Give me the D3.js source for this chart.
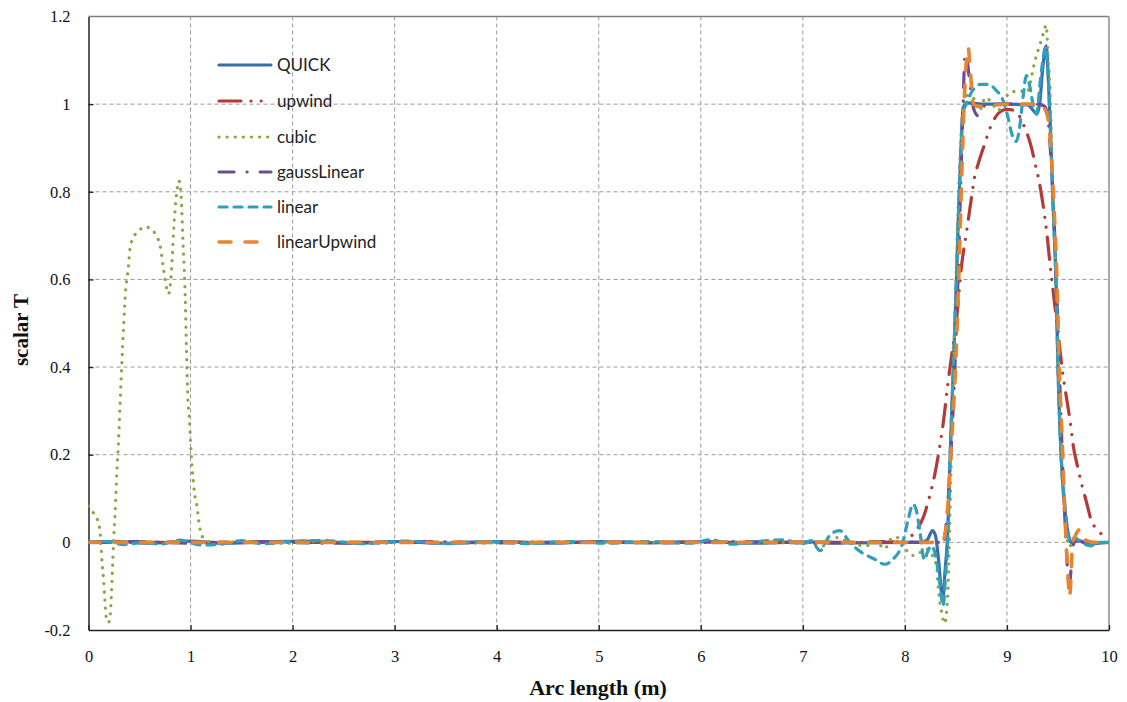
<!DOCTYPE html>
<html><head><meta charset="utf-8">
<script src="https://cdn.jsdelivr.net/npm/d3@7"></script>
<style>body{margin:0;background:#fff;}svg{display:block;}</style>
</head><body>
<svg id="chart" width="1127" height="702"></svg>
<script>
// ---- data ----
const seriesNames = ["QUICK","upwind","cubic","gaussLinear","linear","linearUpwind"];
const xTicks = [0,1,2,3,4,5,6,7,8,9,10];
const yTicks = [-0.2,0,0.2,0.4,0.6,0.8,1,1.2];
const xTickLabels = ["0","1","2","3","4","5","6","7","8","9","10"];
const yTickLabels = ["-0.2","0","0.2","0.4","0.6","0.8","1","1.2"];

const quickData = [[0,0],[0.3,0.002],[0.6,-0.002],[1.0,0.003],[1.3,-0.002],[1.8,0.002],[2.2,0.003],[2.6,-0.002],[3.0,0.002],[3.5,-0.002],[4.0,0.002],[4.5,-0.002],[5.0,0.002],[5.5,-0.001],[6.0,0.002],[6.5,-0.002],[7.0,0.001],[7.5,-0.001],[8.0,0],[8.15,0],[8.22,0.006],[8.27,0.027],[8.30,0.015],[8.33,-0.04],[8.37,-0.13],[8.395,-0.06],[8.415,0],[8.44,0.175],[8.475,0.40],[8.505,0.60],[8.525,0.75],[8.55,0.9],[8.57,0.99],[8.60,1.003],[8.8,1.0],[9.0,1.0],[9.2,0.998],[9.26,0.985],[9.29,0.977],[9.32,1.0],[9.35,1.08],[9.385,1.133],[9.405,1.06],[9.425,0.95],[9.45,0.78],[9.48,0.6],[9.50,0.4],[9.53,0.2],[9.565,0.08],[9.60,0.02],[9.63,0],[9.7,0.004],[9.8,-0.003],[10,0]];

const upwindData = [[0,0],[1,0],[2,0],[3,0],[4,0],[5,0],[6,0],[7,0],[7.8,0],[7.95,0.003],[8.05,0.012],[8.11,0.027],[8.18,0.057],[8.24,0.103],[8.29,0.152],[8.34,0.217],[8.38,0.28],[8.42,0.36],[8.46,0.43],[8.505,0.506],[8.555,0.631],[8.60,0.703],[8.65,0.783],[8.68,0.83],[8.72,0.865],[8.77,0.901],[8.85,0.954],[8.93,0.982],[9.0,0.988],[9.08,0.985],[9.16,0.954],[9.24,0.901],[9.28,0.86],[9.31,0.83],[9.36,0.76],[9.39,0.707],[9.42,0.64],[9.45,0.578],[9.50,0.48],[9.55,0.38],[9.58,0.335],[9.62,0.275],[9.65,0.22],[9.69,0.175],[9.73,0.135],[9.78,0.091],[9.82,0.055],[9.89,0.027],[10,0.012]];

const cubicData = [[0,0.083],[0.043,0.069],[0.082,0.055],[0.105,0.038],[0.115,0.019],[0.124,-0.013],[0.134,-0.05],[0.147,-0.084],[0.161,-0.134],[0.173,-0.17],[0.196,-0.183],[0.213,-0.167],[0.222,-0.13],[0.235,-0.06],[0.245,0],[0.259,0.06],[0.278,0.16],[0.294,0.23],[0.31,0.32],[0.335,0.45],[0.359,0.559],[0.392,0.631],[0.408,0.672],[0.441,0.696],[0.49,0.71],[0.546,0.72],[0.611,0.716],[0.663,0.70],[0.702,0.677],[0.735,0.624],[0.768,0.578],[0.784,0.567],[0.807,0.60],[0.82,0.646],[0.833,0.707],[0.849,0.76],[0.866,0.80],[0.885,0.825],[0.905,0.80],[0.915,0.753],[0.925,0.69],[0.937,0.63],[0.947,0.567],[0.96,0.44],[0.974,0.327],[0.986,0.289],[0.996,0.25],[1.006,0.205],[1.016,0.167],[1.028,0.137],[1.038,0.114],[1.062,0.083],[1.087,0.038],[1.111,0.015],[1.16,0.004],[1.25,-0.002],[1.5,0.002],[1.9,-0.002],[2.3,0.002],[2.8,-0.002],[3.3,0.001],[3.8,-0.002],[4.3,0.001],[4.8,-0.001],[5.3,0.001],[5.8,-0.001],[6.2,0.002],[6.6,-0.002],[7.0,0.0],[7.2,-0.008],[7.33,0.011],[7.42,0.004],[7.5,-0.004],[7.62,-0.008],[7.72,0.003],[7.80,-0.015],[7.88,0.011],[7.93,0.011],[8.02,-0.019],[8.08,-0.03],[8.15,-0.023],[8.21,-0.015],[8.26,-0.027],[8.31,-0.053],[8.325,-0.1],[8.36,-0.16],[8.39,-0.185],[8.42,-0.12],[8.44,0.05],[8.47,0.35],[8.50,0.6],[8.53,0.82],[8.56,0.97],[8.6,1.02],[8.67,1.014],[8.73,0.985],[8.79,1.015],[8.86,1.0],[8.91,0.985],[9.03,1.027],[9.13,1.03],[9.19,1.027],[9.22,1.038],[9.24,1.061],[9.27,1.095],[9.32,1.133],[9.36,1.164],[9.385,1.18],[9.405,1.10],[9.42,1.046],[9.45,0.8],[9.48,0.6],[9.50,0.4],[9.53,0.2],[9.57,0.05],[9.61,-0.01],[9.66,0.005],[9.8,-0.002],[10,0]];

const gaussLinearData = [[0,0],[0.5,0.002],[1.0,-0.002],[1.6,0.002],[2.4,-0.002],[3.2,0.002],[4.0,-0.001],[4.8,0.001],[5.6,-0.001],[6.4,0.002],[7.2,-0.002],[7.8,0.002],[8.2,0],[8.34,0],[8.37,-0.008],[8.39,0.01],[8.415,0.07],[8.45,0.2],[8.49,0.4],[8.52,0.6],[8.545,0.8],[8.57,1.0],[8.59,1.115],[8.61,1.10],[8.64,1.04],[8.68,0.985],[8.72,0.973],[8.76,0.99],[8.8,1.0],[9.0,1.0],[9.3,1.0],[9.37,0.995],[9.40,0.97],[9.43,0.88],[9.46,0.75],[9.49,0.55],[9.52,0.35],[9.55,0.15],[9.575,0.02],[9.59,-0.05],[9.607,-0.105],[9.625,-0.07],[9.645,-0.01],[9.68,0.005],[9.75,0.0],[9.82,-0.005],[9.9,0],[10,0]];

const linearData = [[0,0],[0.15,0.002],[0.35,-0.005],[0.55,0.0],[0.7,-0.004],[0.9,0.005],[1.1,-0.006],[1.3,-0.004],[1.5,0.004],[1.7,-0.003],[2.0,0.002],[2.3,0.004],[2.7,-0.003],[3.1,0.003],[3.5,-0.003],[3.9,0.002],[4.3,-0.003],[4.7,0.002],[5.1,-0.002],[5.5,0.002],[5.9,-0.002],[6.1,0.006],[6.3,-0.004],[6.6,0.003],[6.8,0.006],[7.0,-0.003],[7.08,0.004],[7.17,-0.019],[7.26,0.015],[7.36,0.027],[7.46,0.0],[7.575,-0.023],[7.70,-0.038],[7.80,-0.05],[7.885,-0.038],[7.98,0],[8.03,0.05],[8.08,0.087],[8.115,0.07],[8.15,0.02],[8.19,-0.04],[8.225,-0.02],[8.26,-0.008],[8.30,-0.03],[8.34,-0.09],[8.375,-0.145],[8.40,-0.07],[8.42,0],[8.44,0.175],[8.475,0.4],[8.505,0.6],[8.525,0.75],[8.55,0.9],[8.57,0.98],[8.60,1.0],[8.66,1.03],[8.74,1.045],[8.82,1.045],[8.90,1.03],[8.95,1.015],[9.01,0.97],[9.05,0.93],[9.09,0.915],[9.12,0.94],[9.16,1.02],[9.19,1.065],[9.22,1.045],[9.26,0.995],[9.29,0.978],[9.33,1.06],[9.38,1.13],[9.405,1.06],[9.425,0.95],[9.45,0.78],[9.48,0.6],[9.50,0.4],[9.53,0.2],[9.57,0.08],[9.60,0.02],[9.63,0],[9.66,0.011],[9.72,0.002],[9.82,-0.008],[9.9,0],[10,0]];

const linearUpwindData = [[0,0],[2,0],[4,0],[6,0],[8,0],[8.36,0],[8.385,0.01],[8.41,0.05],[8.45,0.2],[8.50,0.42],[8.53,0.62],[8.555,0.82],[8.58,1.0],[8.60,1.09],[8.62,1.13],[8.64,1.08],[8.67,1.0],[8.72,0.995],[9.0,1.0],[9.34,1.0],[9.37,0.99],[9.40,0.97],[9.43,0.9],[9.46,0.77],[9.49,0.6],[9.51,0.42],[9.54,0.24],[9.565,0.08],[9.58,0.0],[9.595,-0.06],[9.613,-0.125],[9.628,-0.08],[9.64,-0.01],[9.68,0.02],[9.72,0.03],[9.77,0.005],[9.85,0],[10,0]];

const allData = [quickData, upwindData, cubicData, gaussLinearData, linearData, linearUpwindData];

// ---- styles ----
const colors = ["#3b6cb0","#b23b37","#85a846","#6c4c93","#2f9fbb","#e8842f"];
const dashes = [null,"22,10,0.1,10,0.1,10","0.1,8","15,13,0.1,13","8,7","12,14"];
const widths = [3.2,3.2,3.2,3.2,3.2,3.6];

const svg = d3.select("#chart");
const W = 1127, H = 702;
const m = {left:88.5, right:W-1109, top:16.5, bottom:H-630};
const x = d3.scaleLinear().domain([0,10]).range([m.left, W-m.right]);
const y = d3.scaleLinear().domain([-0.2,1.2]).range([H-m.bottom, m.top]);

// gridlines
const g = svg.append("g");
g.selectAll("line.vg").data(xTicks.slice(1,-1)).enter().append("line")
  .attr("x1",d=>x(d)).attr("x2",d=>x(d)).attr("y1",y(1.2)).attr("y2",y(-0.2))
  .attr("stroke","#9a9a9a").attr("stroke-width",1).attr("stroke-dasharray","4,3");
g.selectAll("line.hg").data(yTicks.filter(d=>d>-0.2 && d<1.2)).enter().append("line")
  .attr("x1",x(0)).attr("x2",x(10)).attr("y1",d=>y(d)).attr("y2",d=>y(d))
  .attr("stroke","#9a9a9a").attr("stroke-width",1).attr("stroke-dasharray","4,3");

// frame top/right
svg.append("line").attr("x1",x(0)).attr("x2",x(10)).attr("y1",y(1.2)).attr("y2",y(1.2)).attr("stroke","#7f7f7f").attr("stroke-width",1.3);
svg.append("line").attr("x1",x(10)).attr("x2",x(10)).attr("y1",y(1.2)).attr("y2",y(-0.2)).attr("stroke","#7f7f7f").attr("stroke-width",1.3);

// axes
const xAxis = d3.axisBottom(x).tickValues(xTicks).tickFormat((d,i)=>xTickLabels[i]).tickSizeInner(-5).tickSizeOuter(0).tickPadding(20);
const yAxis = d3.axisLeft(y).tickValues(yTicks).tickFormat((d,i)=>yTickLabels[i]).tickSizeInner(-5).tickSizeOuter(0).tickPadding(18);
const gx = svg.append("g").attr("transform",`translate(0,${y(-0.2)})`).call(xAxis);
const gy = svg.append("g").attr("transform",`translate(${x(0)},0)`).call(yAxis);
[gx,gy].forEach(a=>{
  a.select(".domain").attr("stroke","#222").attr("stroke-width",1.5);
  a.selectAll(".tick line").attr("stroke","#222").attr("stroke-width",1.3);
  a.selectAll(".tick text").attr("font-family","'Liberation Serif', serif").attr("font-size",16.5).attr("fill","#111");
});
gy.selectAll(".tick").filter(d=>d===-0.2||d===1.2).select("line").remove();

// lines
const line = d3.line().x(d=>x(d[0])).y(d=>y(d[1])).curve(d3.curveMonotoneX);
const clip = svg.append("clipPath").attr("id","clip").append("rect")
  .attr("x",x(0)).attr("y",0).attr("width",x(10)-x(0)).attr("height",y(-0.2)+4);
const lg = svg.append("g").attr("clip-path","url(#clip)");
allData.forEach((data,i)=>{
  lg.append("path").datum(data).attr("d",line)
    .attr("fill","none").attr("stroke",colors[i]).attr("stroke-width",widths[i])
    .attr("stroke-linecap","round").attr("stroke-linejoin","round")
    .attr("stroke-dasharray",dashes[i]);
});

// legend
const legY = [65,101,137,172,207,242];
const leg = svg.append("g");
seriesNames.forEach((n,i)=>{
  leg.append("line").attr("x1",219).attr("x2",271).attr("y1",legY[i]).attr("y2",legY[i])
    .attr("stroke",colors[i]).attr("stroke-width",widths[i]).attr("stroke-linecap","round")
    .attr("stroke-dasharray",dashes[i]);
  leg.append("text").attr("x",277).attr("y",legY[i]).attr("dy","0.35em")
    .attr("font-family","Lato, 'Open Sans', sans-serif").attr("font-size",17).attr("fill","#222").text(n);
});

// axis titles
svg.append("text").attr("x",598).attr("y",695).attr("text-anchor","middle")
  .attr("font-family","'Liberation Serif', serif").attr("font-weight","bold").attr("font-size",22)
  .attr("fill","#111").text("Arc length (m)");
svg.append("text").attr("transform","translate(28,330) rotate(-90)").attr("text-anchor","middle")
  .attr("font-family","'Liberation Serif', serif").attr("font-weight","bold").attr("font-size",21)
  .attr("fill","#111").text("scalar T");
</script>
</body></html>
